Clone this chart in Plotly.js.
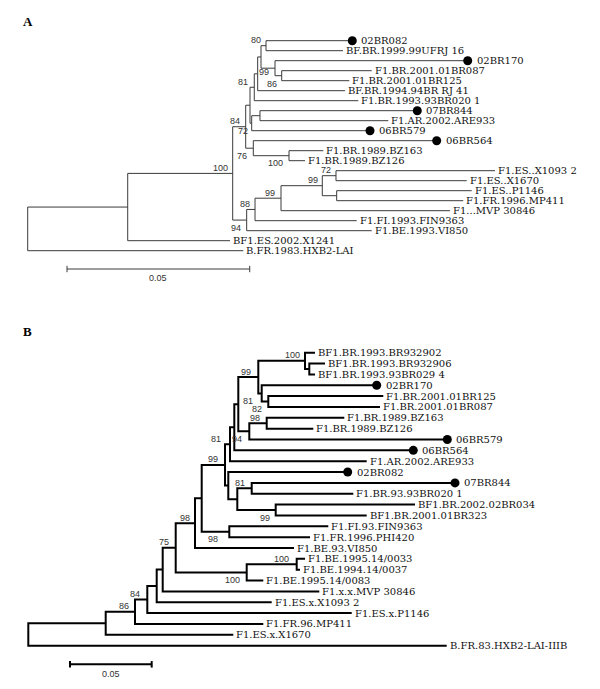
<!DOCTYPE html>
<html><head><meta charset="utf-8">
<script src="https://cdn.plot.ly/plotly-3.0.1.min.js"></script>
<style>html,body{margin:0;padding:0;background:#fff}#chart{width:600px;height:689px}</style>
</head><body><div id="chart"></div>
<script>
// ================= TREE A (data) =================
const innerIdA      = ["R","N1","N2","N84","X","N81","Y","Z","N80","N99a","N86","N72","W","N76","N100","N94","N88","N99b","N99c","N72b","V"];
const innerParentA  = [null,"R","N1","N2","N84","X","N81","Y","Z","Z","N99a","X","N72","N84","N76","N2","N94","N88","N99b","N99c","N99c"];
const innerDepthA   = [0,0.02737,0.05610,0.05966,0.06084,0.06201,0.06294,0.06385,0.06522,0.06768,0.06951,0.06130,0.06357,0.06174,0.07151,0.05993,0.06221,0.06932,0.08062,0.08437,0.08456];
const innerSupportA = [null,null,100,84,null,81,null,null,80,99,86,72,null,76,100,94,88,99,99,72,null];

const leafNameA = ["02BR082","BF.BR.1999.99UFRJ 16","02BR170","F1.BR.2001.01BR087","F1.BR.2001.01BR125","BF.BR.1994.94BR RJ 41","F1.BR.1993.93BR020 1","07BR844","F1.AR.2002.ARE933","06BR579","06BR564","F1.BR.1989.BZ163","F1.BR.1989.BZ126","F1.ES..X1093 2","F1.ES..X1670","F1.ES..P1146","F1.FR.1996.MP411","F1...MVP 30846","F1.FI.1993.FIN9363","F1.BE.1993.VI850","BF1.ES.2002.X1241","B.FR.1983.HXB2-LAI"];
const leafParentA = ["N80","N80","N99a","N86","N86","Y","N81","W","W","N72","N76","N100","N100","N72b","N72b","V","V","N99b","N88","N94","N1","R"];
const leafDepthA  = [0.08883,0.08629,0.12042,0.09414,0.08801,0.08684,0.09048,0.10662,0.09869,0.09368,0.11193,0.08090,0.07589,0.12789,0.12014,0.12151,0.11921,0.11557,0.09004,0.09414,0.05536,0.05900];
const leafDotA    = [1,0,1,0,0,0,0,1,0,1,1,0,0,0,0,0,0,0,0,0,0,0];

// ================= TREE B (data) =================
const innerIdB      = ["R","Nb1","N86","N84","Nb2","Nb3","N75","N98a","Nb4","N99c","U1","U3","U4","N99","N100","Q","N81b","N82","N94","N98","U2","U5","N81c","N99d","N98b","N100a","N100b"];
const innerParentB  = [null,"R","Nb1","N86","N84","Nb2","Nb3","N75","N98a","Nb4","N99c","U1","U3","U4","N99","N100","N99","N81b","U4","N94","N99c","U2","U5","U5","Nb4","N75","N100a"];
const innerDepthB   = [0,0.04737,0.06530,0.07283,0.07858,0.08225,0.09021,0.10202,0.10612,0.12038,0.12344,0.12607,0.12852,0.14076,0.16934,0.17197,0.14284,0.14688,0.13525,0.14590,0.12240,0.12791,0.13672,0.15141,0.12301,0.13366,0.16426];
const innerSupportB = [null,null,86,84,null,null,75,98,null,99,81,null,null,99,100,null,81,82,94,98,null,null,81,99,98,100,100];

const leafNameB = ["BF1.BR.1993.BR932902","BF1.BR.1993.BR932906","BF1.BR.1993.93BR029 4","02BR170","F1.BR.2001.01BR125","F1.BR.2001.01BR087","F1.BR.1989.BZ163","F1.BR.1989.BZ126","06BR579","06BR564","F1.AR.2002.ARE933","02BR082","07BR844","F1.BR.93.93BR020 1","BF1.BR.2002.02BR034","BF1.BR.2001.01BR323","F1.FI.93.FIN9363","F1.FR.1996.PHI420","F1.BE.93.VI850","F1.BE.1995.14/0033","F1.BE.1994.14/0037","F1.BE.1995.14/0083","F1.x.x.MVP 30846","F1.ES.x.X1093 2","F1.ES.x.P1146","F1.FR.96.MP411","F1.ES.x.X1670","B.FR.83.HXB2-LAI-IIIB"];
const leafParentB = ["N100","Q","Q","N81b","N82","N82","N98","N98","N94","U3","U1","U2","N81c","N81c","N99d","N99d","N98b","N98b","N98a","N100b","N100b","N100a","Nb3","Nb2","N84","N86","Nb1","R"];
const leafDepthB  = [0.17546,0.18158,0.17546,0.21322,0.21726,0.21524,0.19339,0.17442,0.25643,0.23562,0.20710,0.19547,0.26114,0.19890,0.23666,0.20710,0.18360,0.17240,0.16261,0.16934,0.16628,0.14382,0.17809,0.14896,0.19792,0.14382,0.12546,0.25606];
const leafDotB    = [0,0,0,1,0,0,0,0,1,1,0,1,1,0,0,0,0,0,0,0,0,0,0,0,0,0,0,0];

const scaleLen = 0.05;
const scaleText = "0.05";
const panelTitles = ["A","B"];

// ================= style: support-label placement [side a=above/b=below, dx px, optional yshift px] =================
const supStyleA = {N2:["a",-3],N84:["a",-4],N81:["a",-4],N80:["a",-3],N99a:["b",-4,-4],N86:["b",-3,-8],N72:["b",-2],N76:["b",-4],N100:["b",-4],N94:["b",-4],N88:["a",-3],N99b:["a",-4],N99c:["a",-2],N72b:["a",-3]};
const supStyleB = {N86:["a",-4],N84:["a",-5],N75:["a",-5],N98a:["a",-3],N99c:["a",-5],U1:["a",-7],N99:["a",-5],N100:["a",-3],N81b:["b",-7],N82:["b",-4],N94:["b",-5],N98:["a",-5],N81c:["a",-5],N99d:["b",-4],N98b:["b",-9],N100a:["b",-5],N100b:["a",-6]};

function buildTree(innerId, innerParent, innerDepth, leafName, leafParent, leafDepth){
  const nodes = {};
  innerId.forEach((id,i)=>{ nodes[id] = {id, depth: innerDepth[i], children: [], leaf:false}; });
  leafName.forEach((n,i)=>{ nodes["L"+i] = {id:"L"+i, depth: leafDepth[i], y: i, children: [], leaf:true}; });
  innerId.forEach((id,i)=>{ if(innerParent[i]) nodes[innerParent[i]].children.push(nodes[id]); });
  leafName.forEach((n,i)=>{ nodes[leafParent[i]].children.push(nodes["L"+i]); });
  function setY(n){
    if(n.leaf) return n.y;
    const ys = n.children.map(setY);
    n.y = (Math.min(...ys) + Math.max(...ys))/2;
    n.children.sort((a,b)=>a.y-b.y);
    return n.y;
  }
  setY(nodes["R"]);
  const xs=[], ys=[];
  innerId.forEach(id=>{
    const n = nodes[id];
    const a = n.children[0], b = n.children[n.children.length-1];
    xs.push(a.depth, n.depth, n.depth, b.depth, null);
    ys.push(a.y, a.y, b.y, b.y, null);
  });
  return {nodes, xs, ys};
}

const TA = buildTree(innerIdA, innerParentA, innerDepthA, leafNameA, leafParentA, leafDepthA);
const TB = buildTree(innerIdB, innerParentB, innerDepthB, leafNameB, leafParentB, leafDepthB);

const serif = "DejaVu Serif, serif";
const sans = "Liberation Sans, Arial, sans-serif";

const traces = [];
traces.push({x: TA.xs, y: TA.ys, xaxis:"x", yaxis:"y", mode:"lines", line:{color:"#3a3a3a", width:1}, hoverinfo:"skip", showlegend:false});
traces.push({x: TB.xs, y: TB.ys, xaxis:"x2", yaxis:"y2", mode:"lines", line:{color:"#000", width:2}, hoverinfo:"skip", showlegend:false});

function dots(names, depth, dot, ax, ay){
  const x=[], y=[];
  names.forEach((n,i)=>{ if(dot[i]){ x.push(depth[i]); y.push(i);} });
  return {x, y, xaxis:ax, yaxis:ay, mode:"markers", marker:{color:"#000", size:9}, hoverinfo:"skip", showlegend:false};
}
traces.push(dots(leafNameA, leafDepthA, leafDotA, "x", "y"));
traces.push(dots(leafNameB, leafDepthB, leafDotB, "x2", "y2"));

// scale bars (style positions)
const sbA = {x0: 0.01076, y: 22.83, ty: 23.76, tick: 0.32};
const sbB = {x0: 0.02552, y: 28.72, ty: 29.61, tick: 0.3};
traces.push({x:[sbA.x0, sbA.x0+scaleLen, null, sbA.x0, sbA.x0, null, sbA.x0+scaleLen, sbA.x0+scaleLen],
             y:[sbA.y, sbA.y, null, sbA.y-sbA.tick, sbA.y+sbA.tick, null, sbA.y-sbA.tick, sbA.y+sbA.tick],
             xaxis:"x", yaxis:"y", mode:"lines", line:{color:"#3a3a3a", width:1}, hoverinfo:"skip", showlegend:false});
traces.push({x:[sbB.x0, sbB.x0+scaleLen, null, sbB.x0, sbB.x0, null, sbB.x0+scaleLen, sbB.x0+scaleLen],
             y:[sbB.y, sbB.y, null, sbB.y-sbB.tick, sbB.y+sbB.tick, null, sbB.y-sbB.tick, sbB.y+sbB.tick],
             xaxis:"x2", yaxis:"y2", mode:"lines", line:{color:"#000", width:2}, hoverinfo:"skip", showlegend:false});

const ann = [];
function leafLabels(names, depth, dot, xr, yr){
  names.forEach((n,i)=>{
    ann.push({xref:xr, yref:yr, x:depth[i], y:i, text:n, showarrow:false, xanchor:"left", yanchor:"middle",
      xshift: dot[i] ? 7 : 1, font:{family:serif, size:10, color:"#111"}});
  });
}
leafLabels(leafNameA, leafDepthA, leafDotA, "x", "y");
leafLabels(leafNameB, leafDepthB, leafDotB, "x2", "y2");

function supLabels(T, ids, sup, style, xr, yr){
  ids.forEach((id,i)=>{
    if(sup[i]==null) return;
    const n = T.nodes[id];
    const st = style[id] || ["a",-4];
    const ysh = st.length > 2 ? st[2] : (st[0]==="a" ? 5.5 : -7.5);
    ann.push({xref:xr, yref:yr, x:n.depth, y:n.y, text:String(sup[i]), showarrow:false, xanchor:"right", yanchor:"middle",
      xshift: st[1], yshift: ysh, font:{family:sans, size:9, color:"#333"}});
  });
}
supLabels(TA, innerIdA, innerSupportA, supStyleA, "x", "y");
supLabels(TB, innerIdB, innerSupportB, supStyleB, "x2", "y2");

ann.push({xref:"x", yref:"y", x:sbA.x0+scaleLen/2, y:sbA.ty, text:scaleText, showarrow:false, xanchor:"center", yanchor:"middle", font:{family:sans, size:9, color:"#333"}});
ann.push({xref:"x2", yref:"y2", x:sbB.x0+scaleLen/2, y:sbB.ty, text:scaleText, showarrow:false, xanchor:"center", yanchor:"middle", font:{family:sans, size:9, color:"#333"}});

ann.push({xref:"paper", yref:"paper", x:21/600, y:1-21/689, text:"<b>"+panelTitles[0]+"</b>", showarrow:false, xanchor:"left", yanchor:"middle", font:{family:"Liberation Serif, serif", size:13, color:"#000"}});
ann.push({xref:"paper", yref:"paper", x:21/600, y:1-331.5/689, text:"<b>"+panelTitles[1]+"</b>", showarrow:false, xanchor:"left", yanchor:"middle", font:{family:"Liberation Serif, serif", size:13, color:"#000"}});

const hidden = {visible:false, fixedrange:true, showgrid:false, zeroline:false};
const layout = {
  width:600, height:689, margin:{l:0,r:0,t:0,b:0},
  paper_bgcolor:"#fff", plot_bgcolor:"rgba(0,0,0,0)", showlegend:false,
  xaxis: Object.assign({domain:[0,1], range:[-27.7/3654, 572.3/3654], anchor:"y"}, hidden),
  yaxis: Object.assign({domain:[1-300/689,1], range:[(300-40.7)/10, -40.7/10], anchor:"x"}, hidden),
  xaxis2: Object.assign({domain:[0,1], range:[-28.3/1634, 571.7/1634], anchor:"y2"}, hidden),
  yaxis2: Object.assign({domain:[0,389/689], range:[(689-352.7)/10.85, (300-352.7)/10.85], anchor:"x2"}, hidden),
  annotations: ann
};
Plotly.newPlot("chart", traces, layout, {staticPlot:true, displayModeBar:false});
</script></body></html>
